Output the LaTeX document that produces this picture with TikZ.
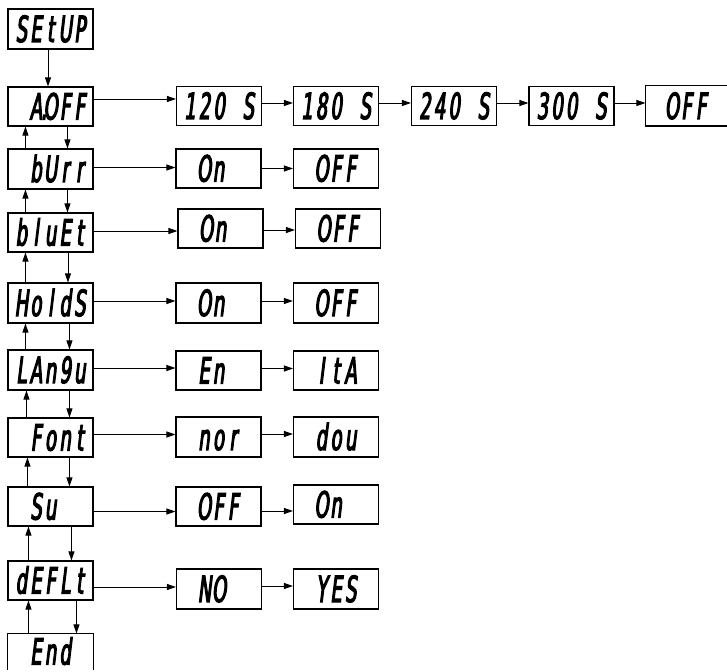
\documentclass[tikz,border=0pt]{standalone}
\usepackage{fontspec}
\usetikzlibrary{arrows.meta}
\newfontfamily\segfont{DejaVu Sans}[FakeStretch=0.5,FakeSlant=0.12,FakeBold=3]
\newcommand\dg[1]{\makebox[14.6pt][c]{#1}}
\begin{document}
\begin{tikzpicture}[x=1pt,y=-1pt,
  disp/.style={draw, line width=1.1pt, minimum width=85pt, minimum height=39pt,
    inner sep=0pt, font=\segfont\fontsize{36}{36}\selectfont,
    text height=26pt, text depth=0pt},
  arr/.style={-{Triangle[length=9pt,width=6pt]}, line width=0.9pt}]
\useasboundingbox (0,0) rectangle (727,671);
% left column
\node[disp, minimum height=40pt] (setup) at (50.5,29) {\dg{S}\dg{E}\dg{t}\dg{U}\dg{P}};
\node[disp] (aoff) at (50.5,106.5) {\dg{}\dg{A\rlap{\kern-1pt.}}\dg{O}\dg{F}\dg{F}};
\node[disp, minimum height=40pt] (burr) at (50.5,169) {\dg{}\dg{b}\dg{U}\dg{r}\dg{r}};
\node[disp] (bluet) at (50.5,232.5) {\dg{b}\dg{l}\dg{u}\dg{E}\dg{t}};
\node[disp, minimum height=40pt] (holds) at (50.5,303) {\dg{H}\dg{o}\dg{l}\dg{d}\dg{S}};
\node[disp, minimum height=40pt] (langu) at (50.5,370) {\dg{L}\dg{A}\dg{n}\dg{9}\dg{u}};
\node[disp] (font) at (50.5,437.5) {\dg{}\dg{F}\dg{o}\dg{n}\dg{t}};
\node[disp] (su) at (50.5,506.5) {\dg{}\dg{S}\dg{u}\dg{}\dg{}};
\node[disp] (deflt) at (50.5,580.5) {\dg{d}\dg{E}\dg{F}\dg{L}\dg{t}};
\node[disp, draw=none, minimum height=35pt] (end) at (50.5,651.5) {\dg{}\dg{E}\dg{n}\dg{d}\dg{}};
\draw[line width=1.1pt] (end.south west) -- (end.north west) -- (end.north east) -- (end.south east);
% A.OFF row
\node[disp] (t120) at (219,106) {\dg{1}\dg{2}\dg{0}\dg{}\dg{S}};
\node[disp] (t180) at (336,106) {\dg{1}\dg{8}\dg{0}\dg{}\dg{S}};
\node[disp] (t240) at (454,106) {\dg{2}\dg{4}\dg{0}\dg{}\dg{S}};
\node[disp] (t300) at (571.5,106) {\dg{3}\dg{0}\dg{0}\dg{}\dg{S}};
\node[disp, draw=none, minimum width=81pt] (toff) at (686.5,106) {\dg{}\dg{O}\dg{F}\dg{F}\dg{}};
\draw[line width=1.1pt] (toff.north east) -- (toff.north west) -- (toff.south west) -- (toff.south east);
% bUrr row
\node[disp] (bon) at (218.5,168.5) {\dg{}\dg{O}\dg{n}\dg{}\dg{}};
\node[disp] (boff) at (336,168.5) {\dg{}\dg{O}\dg{F}\dg{F}\dg{}};
% bluEt row
\node[disp] (lon) at (220.5,228.5) {\dg{}\dg{O}\dg{n}\dg{}\dg{}};
\node[disp] (loff) at (338,228.5) {\dg{}\dg{O}\dg{F}\dg{F}\dg{}};
% HoldS row
\node[disp, minimum height=40pt] (hon) at (218.5,303) {\dg{}\dg{O}\dg{n}\dg{}\dg{}};
\node[disp, minimum height=40pt] (hoff) at (336,303) {\dg{}\dg{O}\dg{F}\dg{F}\dg{}};
% LAngu row
\node[disp] (en) at (218.5,370.5) {\dg{}\dg{E}\dg{n}\dg{}\dg{}};
\node[disp] (ita) at (336,370.5) {\dg{}\dg{I}\dg{t}\dg{A}\dg{}};
% Font row
\node[disp, minimum height=40pt] (nor) at (218.5,437) {\dg{}\dg{n}\dg{o}\dg{r}\dg{}};
\node[disp, minimum height=40pt] (dou) at (336,437) {\dg{}\dg{d}\dg{o}\dg{u}\dg{}};
% Su row
\node[disp] (soff) at (218.5,506.5) {\dg{}\dg{O}\dg{F}\dg{F}\dg{}};
\node[disp] (son) at (336,504.5) {\dg{}\dg{O}\dg{n}\dg{}\dg{}};
% dEFLt row
\node[disp, minimum height=40pt] (no) at (219,589) {\dg{}\dg{N}\dg{O}\dg{}\dg{}};
\node[disp, minimum height=40pt] (yes) at (336,589) {\dg{}\dg{Y}\dg{E}\dg{S}\dg{}};
% vertical connectors
\draw[arr] ([xshift=-2.5pt]setup.south) -- ([xshift=-2.5pt]aoff.north);
\draw[arr] ([xshift=18pt]burr.north west) -- ([xshift=18pt]aoff.south west);
\draw[arr] ([xshift=60pt]aoff.south west) -- ([xshift=60pt]burr.north west);
\draw[arr] ([xshift=18pt]bluet.north west) -- ([xshift=18pt]burr.south west);
\draw[arr] ([xshift=60pt]burr.south west) -- ([xshift=60pt]bluet.north west);
\draw[arr] ([xshift=18pt]holds.north west) -- ([xshift=18pt]bluet.south west);
\draw[arr] ([xshift=60.5pt]bluet.south west) -- ([xshift=60.5pt]holds.north west);
\draw[arr] ([xshift=18pt]langu.north west) -- ([xshift=18pt]holds.south west);
\draw[arr] ([xshift=62pt]holds.south west) -- ([xshift=62pt]langu.north west);
\draw[arr] ([xshift=19pt]font.north west) -- ([xshift=19pt]langu.south west);
\draw[arr] ([xshift=62pt]langu.south west) -- ([xshift=62pt]font.north west);
\draw[arr] ([xshift=20pt]su.north west) -- ([xshift=20pt]font.south west);
\draw[arr] ([xshift=62pt]font.south west) -- ([xshift=62pt]su.north west);
\draw[arr] ([xshift=21pt]deflt.north west) -- ([xshift=21pt]su.south west);
\draw[arr] ([xshift=64pt]su.south west) -- ([xshift=64pt]deflt.north west);
\draw[arr] ([xshift=21pt]end.north west) -- ([xshift=21pt]deflt.south west);
\draw[arr] ([xshift=69pt]deflt.south west) -- ([xshift=69pt]end.north west);
% horizontal connectors
\draw[arr] ([yshift=7.5pt]aoff.east) -- ([yshift=7.5pt]aoff.east -| t120.west);
\draw[arr] ([yshift=3pt]t120.east) -- ([yshift=3pt]t180.west);
\draw[arr] ([yshift=3pt]t180.east) -- ([yshift=3pt]t240.west);
\draw[arr] ([yshift=3pt]t240.east) -- ([yshift=3pt]t300.west);
\draw[arr] ([yshift=3pt]t300.east) -- ([yshift=3pt]toff.west);
\draw[arr] ([yshift=1.5pt]burr.east) -- ([yshift=1.5pt]burr.east -| bon.west);
\draw[arr] (bon.east) -- (boff.west);
\draw[arr] ([yshift=1.5pt]bluet.east) -- ([yshift=1.5pt]bluet.east -| lon.west);
\draw[arr] ([yshift=-1.5pt]lon.east) -- ([yshift=-1.5pt]loff.west);
\draw[arr] ([yshift=2pt]holds.east) -- ([yshift=2pt]holds.east -| hon.west);
\draw[arr] ([yshift=2pt]hon.east) -- ([yshift=2pt]hoff.west);
\draw[arr] ([yshift=2pt]langu.east) -- ([yshift=2pt]langu.east -| en.west);
\draw[arr] ([yshift=2pt]en.east) -- ([yshift=2pt]en.east -| ita.west);
\draw[arr] ([yshift=3pt]font.east) -- ([yshift=3pt]font.east -| nor.west);
\draw[arr] ([yshift=3pt]nor.east) -- ([yshift=3pt]dou.west);
\draw[arr] ([yshift=-5pt]su.east) -- ([yshift=-5pt]su.east -| soff.west);
\draw[arr] ([yshift=-4.5pt]soff.east) -- ([yshift=-4.5pt]soff.east -| son.west);
\draw[arr] ([yshift=-6.5pt]deflt.east) -- ([yshift=-6.5pt]deflt.east -| no.west);
\draw[arr] ([yshift=3pt]no.east) -- ([yshift=3pt]yes.west);
\end{tikzpicture}
\end{document}
